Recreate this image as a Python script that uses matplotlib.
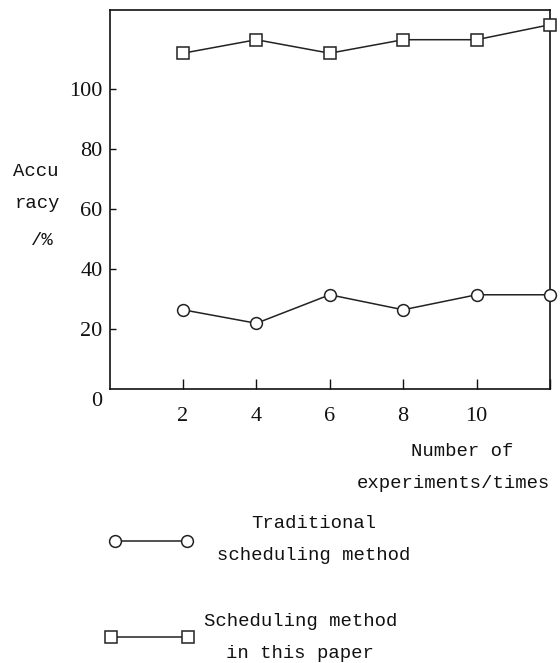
import matplotlib
matplotlib.use("Agg")
import matplotlib.pyplot as plt
from matplotlib.lines import Line2D

experiments = [2, 4, 6, 8, 10, 12]
traditional = [26.5, 22, 31.5, 26.5, 31.5, 31.5]
proposed = [112, 116.5, 112, 116.5, 116.5, 121.5]
xticks = [2, 4, 6, 8, 10, 12]
xticklabels = ["2", "4", "6", "8", "10", ""]
yticks = [20, 40, 60, 80, 100]
yticklabels = ["20", "40", "60", "80", "100"]

W, H = 560, 663
fig = plt.figure(figsize=(W / 100, H / 100), dpi=100)
ax = fig.add_axes([109.5 / W, 1 - 389.3 / H, (550 - 109.5) / W, (389.3 - 10) / H])

LC = "#222222"
ax.plot(experiments, traditional, color=LC, lw=1.1, marker="o", ms=8.5,
        mfc="white", mec=LC, mew=1.1, clip_on=False, zorder=3)
ax.plot(experiments, proposed, color=LC, lw=1.1, marker="s", ms=8.5,
        mfc="white", mec=LC, mew=1.1, clip_on=False, zorder=3)

ax.set_xlim(0, 12)
ax.set_ylim(0, 126.4)
for s in ax.spines.values():
    s.set_linewidth(1.2)
    s.set_color("#111111")

serif = "Liberation Serif"
mono = "Liberation Mono"
ax.set_xticks(xticks)
ax.set_xticklabels(xticklabels, fontfamily=serif, fontsize=16)
ax.set_yticks(yticks)
ax.set_yticklabels(yticklabels, fontfamily=serif, fontsize=16)
ax.tick_params(axis="x", direction="in", length=7, width=1, pad=12.5, colors="#111111")
ax.tick_params(axis="y", direction="in", length=4.5, width=1, pad=5, colors="#111111")

def ftext(x, y, s, **kw):
    fig.text(x / W, 1 - y / H, s, ha="center", va="center", **kw)

ftext(97, 402, "0", fontfamily=serif, fontsize=16, color="#111111")

tk = dict(fontfamily=mono, fontsize=13.6, color="#111111")
ftext(36, 172, "Accu", **tk)
ftext(37, 203, "racy", **tk)
ftext(42, 240, "/%", **tk)
ftext(462, 452, "Number of", **tk)
ftext(453, 484, "experiments/times", **tk)

ftext(314, 524, "Traditional", **tk)
ftext(314, 556, "scheduling method", **tk)
ftext(301, 621, "Scheduling method", **tk)
ftext(300, 653, "in this paper", **tk)

fig.add_artist(Line2D([115 / W, 187 / W], [1 - 541 / H, 1 - 541 / H],
                      transform=fig.transFigure, color=LC, lw=1.1, marker="o",
                      ms=8.5, mfc="white", mec=LC, mew=1.1))
fig.add_artist(Line2D([111 / W, 188 / W], [1 - 637 / H, 1 - 637 / H],
                      transform=fig.transFigure, color=LC, lw=1.1, marker="s",
                      ms=8.5, mfc="white", mec=LC, mew=1.1))

fig.savefig("out.png", dpi=100)
